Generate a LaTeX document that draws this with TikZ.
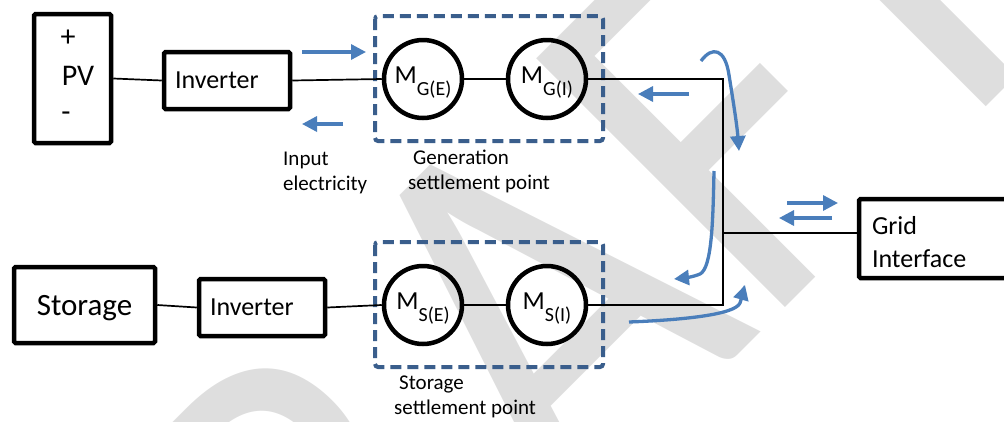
\documentclass[tikz,border=0pt]{standalone}
\usepackage{fontspec}
\setmainfont{Carlito}
\usetikzlibrary{arrows.meta,calc}
\definecolor{wmgray}{HTML}{DEDEDE}
\definecolor{dashblue}{HTML}{3A5E8C}
\definecolor{arrblue}{HTML}{4A7EBB}
\tikzset{
  boxstyle/.style={draw, line width=4.5pt, rounded corners=1.5pt, inner sep=0pt},
  meter/.style={circle, draw, line width=4.5pt, minimum size=78pt, inner sep=0pt,
    font=\fontsize{26}{26}\selectfont, text height=20pt, text depth=12pt},
  settle/.style={draw=dashblue, line width=4pt, dash pattern=on 11pt off 6pt, rounded corners=3pt},
  wire/.style={line width=1.7pt},
  flow/.style={draw=arrblue, line width=3.3pt, -{Triangle[length=15pt,width=15pt]}},
  lbl/.style={inner sep=0pt, align=left, font=\fontsize{21}{25}\selectfont},
  plain/.style={inner sep=0pt}
}
\newcommand{\msub}[2]{M\raisebox{-12pt}{\fontsize{20}{20}\selectfont #1(#2)}}
\begin{document}
\begin{tikzpicture}[x=1pt,y=-1pt]
\useasboundingbox (0,0) rectangle (1004,421);
\clip (0,0) rectangle (1004,421);
% watermark
\node[plain, rotate=45, yscale=1.14, anchor=base west, text=wmgray,
      font=\fontsize{481}{481}\selectfont] (wm) at (142,951) {DR\kern42pt AFT};

% settlement boxes
\draw[settle] (375,16) rectangle (603,141);
\draw[settle] (375,242) rectangle (603,367);

% boxes
\node[boxstyle, minimum width=77pt, minimum height=129pt] (pv) at (72.5,78.5) {};
\node[plain, font=\fontsize{30}{30}\selectfont] (plus) at (68,38) {+};
\node[plain, font=\fontsize{30}{30}\selectfont] (pvt) at (78,76) {PV};
\node[plain, font=\fontsize{30}{30}\selectfont] (minus) at (66,117) {-};

\node[boxstyle, minimum height=57pt, text width=104pt, inner xsep=11pt, align=left,
      font=\fontsize{26}{26}\selectfont] (inv1) at (227,80.5) {Inverter};
\node[boxstyle, minimum width=141pt, minimum height=76pt, text height=21pt, text depth=0pt,
      font=\fontsize{31}{31}\selectfont] (sto) at (84.5,305) {Storage};
\node[boxstyle, minimum height=57pt, text width=104pt, inner xsep=11pt, align=left,
      font=\fontsize{26}{26}\selectfont] (inv2) at (262,307.5) {Inverter};
\node[boxstyle, minimum height=79pt, text width=125pt, inner xsep=13pt, align=left,
      font=\fontsize{26}{33}\selectfont] (grid) at (934.5,238.5) {\rule{0pt}{26pt}Grid\\Interface};

% meters
\node[meter] (mge) at (423,79) {\msub{G}{E}};
\node[meter] (mgi) at (547,79) {\msub{G}{I}};
\node[meter] (mse) at (423,305) {\msub{S}{E}};
\node[meter] (msi) at (547,305) {\msub{S}{I}};

% wires
\coordinate (bt) at (723,79);
\coordinate (bb) at (723,305);
\coordinate (bj) at (723,233);
\draw[wire] (pv.east) -- (inv1.west);
\draw[wire] (inv1.east) -- (mge.west);
\draw[wire] (mge.east) -- (mgi.west);
\draw[wire] (mgi.east) -- (bt) -- (bb) -- (msi.east);
\draw[wire] (sto.east) -- (inv2.west);
\draw[wire] (inv2.east) -- (mse.west);
\draw[wire] (mse.east) -- (msi.west);
\draw[wire] (bj) -- (bj -| grid.west);

% labels
\node[lbl, anchor=north west] (inlbl) at (283,152) {Input\\electricity};
\node[lbl, anchor=north west] (genlbl) at (408,150) {\hspace*{5pt}Generation\\settlement point};
\node[lbl, anchor=north west] (stlbl) at (394,376) {\hspace*{5pt}Storage\\settlement point};

% flow arrows
\coordinate (h1a) at (302,52);  \coordinate (h1b) at (366,52);
\coordinate (h2a) at (343,124); \coordinate (h2b) at (302,124);
\coordinate (h3a) at (689,94);  \coordinate (h3b) at (638,94);
\coordinate (h4a) at (787,203); \coordinate (h4b) at (838,203);
\coordinate (h5a) at (832,218); \coordinate (h5b) at (779,218);
\draw[flow] (h1a) -- (h1b);
\draw[flow] (h2a) -- (h2b);
\draw[flow] (h3a) -- (h3b);
\draw[flow] (h4a) -- (h4b);
\draw[flow] (h5a) -- (h5b);

\coordinate (c1a) at (701,61);  \coordinate (c1b) at (739,151);
\coordinate (c2a) at (714,171); \coordinate (c2b) at (674,279);
\coordinate (c3a) at (629,322); \coordinate (c3b) at (745,285);
\draw[flow] (c1a) .. controls (712,46) and (725,48) .. (729,75)
            .. controls (733,100) and (737,125) .. (c1b);
\draw[flow] (c2a) .. controls (713,220) and (712,268) .. (700,274)
            .. controls (693,277) and (684,278) .. (c2b);
\draw[flow] (c3a) .. controls (680,320) and (735,315) .. (740,303)
            .. controls (742,297) and (743,292) .. (c3b);
\end{tikzpicture}
\end{document}
